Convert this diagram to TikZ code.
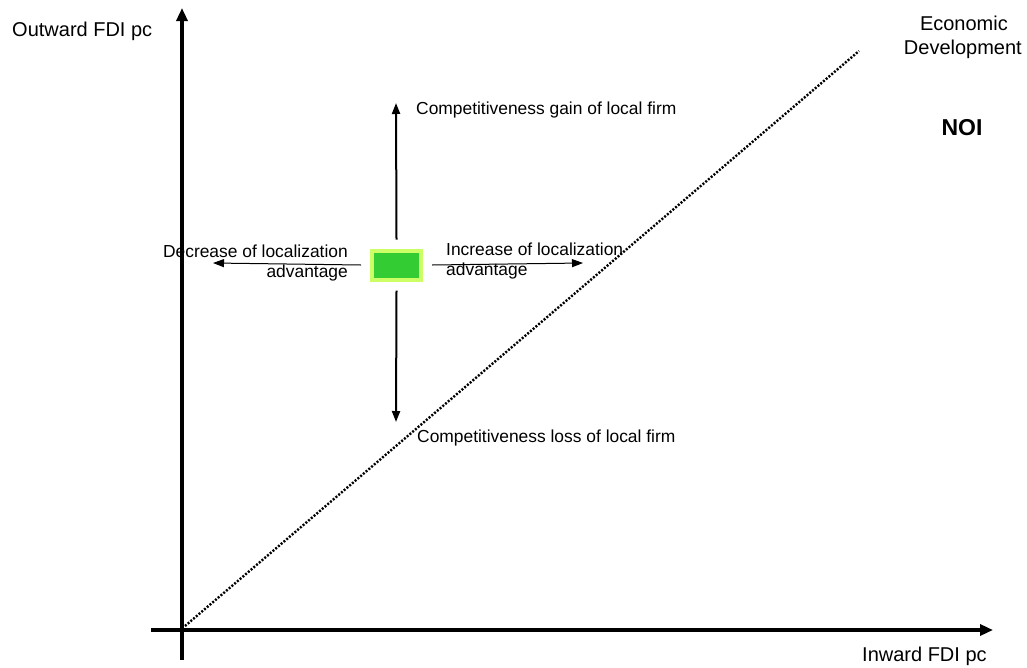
\documentclass[tikz,border=0pt]{standalone}
\usepackage{fontspec}
\setmainfont{Liberation Sans}
\usetikzlibrary{arrows.meta}
\definecolor{boxfill}{HTML}{33CC33}
\definecolor{boxedge}{HTML}{CCFF66}
\tikzset{
  axis/.style={line width=3.2pt,-{Triangle[length=13pt,width=11pt]}},
  move/.style={line width=2pt,-{Triangle[length=11pt,width=8pt]}},
  thin move/.style={line width=1pt,-{Triangle[length=11pt,width=8pt]}},
  diag/.style={line width=2.4pt,dash pattern=on 2pt off 1.6pt},
  lbl/.style={inner sep=0pt,font=\fontsize{17.4}{20}\selectfont},
  big/.style={inner sep=0pt,font=\fontsize{20}{24}\selectfont},
}
\begin{document}
\begin{tikzpicture}[x=1pt,y=-1pt]
\useasboundingbox (0,0) rectangle (1027,667);
% axes
\coordinate (o) at (182,630);
\coordinate (ybot) at (182,660);
\coordinate (ytop) at (182,8);
\coordinate (xleft) at (151,630);
\coordinate (xright) at (993,630);
\draw[axis] (ybot) -- (ytop);
\draw[axis] (xleft) -- (xright);
% diagonal
\coordinate (d0) at (185,626);
\coordinate (d1) at (859,51);
\draw[diag] (d0) -- (d1);
% box
\node[draw=boxedge,line width=4pt,fill=boxfill,minimum width=49pt,minimum height=29pt,inner sep=0pt] (box) at (396.5,265) {};
\coordinate (up) at (396,103);
\coordinate (down) at (396,422);
\coordinate (left) at (213,263);
\coordinate (right) at (583,263);
\draw[move] ([yshift=9pt]box.north) -- (up);
\draw[move] ([yshift=-9pt]box.south) -- (down);
\draw[thin move] ([xshift=-9pt]box.west) -- (left);
\draw[thin move] ([xshift=9pt]box.east) -- (right);
% labels
\node[lbl,anchor=west] (gain) at (416,110) {Competitiveness gain of local firm};
\node[lbl,anchor=west] (loss) at (417,438) {Competitiveness loss of local firm};
\node[lbl,anchor=east] (dec1) at (348,251) {Decrease of localization};
\node[lbl,anchor=east] (dec2) at (348,273) {advantage};
\node[lbl,anchor=west] (inc1) at (446,249) {Increase of localization};
\node[lbl,anchor=west] (inc2) at (446,271) {advantage};
\node[big,anchor=west] (ylab) at (12,31) {Outward FDI pc};
\node[big,anchor=west] (xlab) at (862,656) {Inward FDI pc};
\node[big,anchor=east] (ed1) at (1008,23) {Economic};
\node[big,anchor=east] (ed2) at (1022,49) {Development};
\node[inner sep=0pt,font=\fontsize{23}{27}\selectfont\bfseries] (noi) at (962,128) {NOI};
\end{tikzpicture}
\end{document}
